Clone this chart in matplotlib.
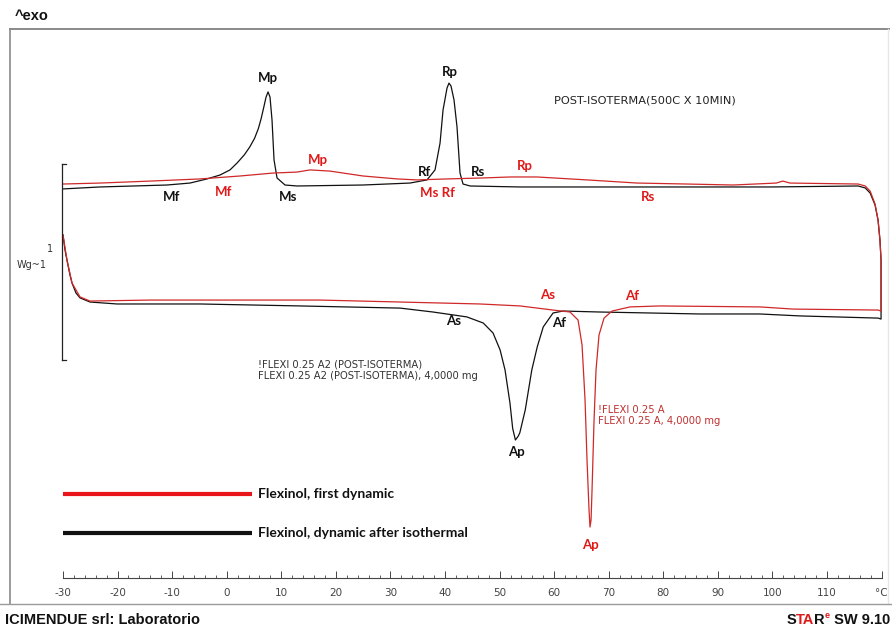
import matplotlib
matplotlib.use("Agg")
import matplotlib.pyplot as plt
from matplotlib.lines import Line2D
from matplotlib.ticker import MultipleLocator
import numpy as np

# ---------------------------------------------------------------------------
# Data (temperature in degC, normalised heat flow in W/g, exo up)
# ---------------------------------------------------------------------------
# Flexinol, dynamic after isothermal (black) - heating branch
black_heat_T = [-30.0, -29.63, -29.27, -28.72, -28.35, -27.62, -26.88, -25.05, -20.1, -4.89,
                13.43, 31.76, 37.8, 44.0, 47.0, 48.8, 50.1, 51.0, 51.9, 52.4, 52.9, 53.4,
                53.7, 54.7, 55.9, 56.9, 58.0, 59.8, 61.6, 68.4, 86.7, 97.7, 105.1, 119.35, 119.9]
black_heat_v = [0.347, 0.270, 0.219, 0.143, 0.102, 0.051, 0.026, 0.005, -0.005, -0.005,
                -0.015, -0.026, -0.046, -0.071, -0.102, -0.153, -0.240, -0.342, -0.510, -0.640, -0.699, -0.680,
                -0.663, -0.546, -0.342, -0.224, -0.122, -0.051, -0.041, -0.046, -0.056, -0.056, -0.066, -0.077, -0.082]
# black - isothermal step + cooling branch
black_cool_T = [119.9, 119.9, 119.7, 119.35, 118.8, 117.9, 117.0, 115.7, 99.6, 75.7, 53.7,
                44.6, 43.3, 42.75, 42.2, 41.65, 41.1, 40.73, 40.37, 39.64, 39.09, 38.17, 36.7,
                33.59, 24.98, 12.88, 10.68, 9.22, 8.67, 8.3, 7.93, 7.57, 7.2, 6.8, 6.3, 5.8,
                5.1, 4.2, 3.2, 1.89, 0.6, -1.23, -3.61, -6.73, -10.94, -23.22, -30.0]
black_cool_v = [0.015, 0.219, 0.321, 0.423, 0.500, 0.561, 0.587, 0.597, 0.592, 0.592, 0.592,
                0.597, 0.607, 0.663, 0.898, 1.036, 1.107, 1.122, 1.097, 0.985, 0.816, 0.679, 0.628,
                0.612, 0.602, 0.597, 0.602, 0.638, 0.730, 0.934, 1.051, 1.077, 1.050, 1.000, 0.940,
                0.890, 0.840, 0.795, 0.755, 0.714, 0.679, 0.653, 0.633, 0.612, 0.602, 0.592, 0.582]

# Flexinol, first dynamic (red) - heating branch
red_heat_T = [-30.0, -29.27, -28.35, -26.88, -25.05, -14.06, 17.1, 31.76, 46.42, 53.75,
              59.79, 62.91, 64.38, 65.11, 65.66, 66.02, 66.39, 66.57, 66.76, 66.94, 67.31,
              67.67, 68.22, 69.14, 70.61, 73.9, 79.4, 97.73, 103.78, 119.35, 119.9]
red_heat_v = [0.347, 0.219, 0.102, 0.031, 0.010, 0.015, 0.015, 0.005, -0.005, -0.015,
              -0.036, -0.046, -0.087, -0.214, -0.495, -0.801, -1.056, -1.143, -1.107, -0.954, -0.597,
              -0.342, -0.163, -0.077, -0.041, -0.020, -0.015, -0.020, -0.031, -0.036, -0.041]
# red - isothermal step + cooling branch
red_cool_T = [119.9, 119.9, 119.7, 119.35, 118.8, 117.9, 117.0, 115.7, 103.2, 101.9, 100.7,
              92.8, 84.35, 75.19, 66.02, 56.86, 51.91, 46.97, 40.37, 34.87, 31.21, 24.98,
              18.93, 15.26, 12.88, 8.48, 2.44, -4.89, -14.06, -23.22, -30.0]
red_cool_v = [0.015, 0.219, 0.321, 0.423, 0.505, 0.571, 0.597, 0.607, 0.612, 0.622, 0.612,
              0.602, 0.607, 0.612, 0.628, 0.643, 0.643, 0.638, 0.633, 0.628, 0.633, 0.648,
              0.673, 0.679, 0.668, 0.663, 0.648, 0.633, 0.622, 0.612, 0.607]

# transformation point labels: (text, T, v)
black_labels = [("Mp", 7.57, 1.148), ("Mf", -10.03, 0.541), ("Ms", 11.23, 0.541),
                ("Rp", 40.92, 1.179), ("Rf", 36.15, 0.668), ("Rs", 46.05, 0.668),
                ("As", 41.65, -0.092), ("Ap", 53.01, -0.760), ("Af", 60.89, -0.102)]
red_labels = [("Mf", -0.5, 0.566), ("Mp", 16.73, 0.730), ("Ms Rf", 38.54, 0.561),
              ("Rp", 54.66, 0.699), ("Rs", 77.2, 0.541), ("As", 58.88, 0.041),
              ("Af", 74.27, 0.036), ("Ap", 66.57, -1.235)]

x_ticks = list(range(-30, 121, 10))
x_ticklabels = [str(t) for t in range(-30, 111, 10)] + ["°C"]
SCALE_BAR = 1.0  # W/g

BLACK = "#111111"
RED = "#d02828"
LABEL_RED = "#e01818"

W, H = 892, 629


def fx(px):
    return px / W


def fy(py):
    return 1 - py / H


fig = plt.figure(figsize=(W / 100, H / 100), dpi=100)
ax = fig.add_axes([fx(63), fy(578), fx(881.6) - fx(63), fy(30) - fy(578)])
ax.set_xlim(-30, 120)
ax.set_ylim((303 - 578) / 196, (303 - 30) / 196)
for side in ("left", "top", "right"):
    ax.spines[side].set_visible(False)
ax.spines["bottom"].set_color("#444444")
ax.spines["bottom"].set_linewidth(0.8)
ax.set_yticks([])
ax.set_xticks(x_ticks)
ax.set_xticklabels(x_ticklabels)
ax.xaxis.set_minor_locator(MultipleLocator(2))
ax.tick_params(axis="x", which="major", direction="in", length=5, width=0.7,
               color="#444444", labelsize=7.5, labelcolor="#444444", pad=7)
ax.tick_params(axis="x", which="minor", direction="in", length=2.5, width=0.6, color="#444444")

# curves
ax.plot(black_heat_T + black_cool_T, black_heat_v + black_cool_v, color=BLACK, lw=0.9)
ax.plot(red_heat_T + red_cool_T, red_heat_v + red_cool_v, color=RED, lw=0.9)

# point labels
for txt, t, v in black_labels:
    ax.text(t, v, txt, color=BLACK, fontsize=9.5, fontweight="bold", family="Lato",
            ha="center", va="center")
for txt, t, v in red_labels:
    ax.text(t, v, txt, color=LABEL_RED, fontsize=9.5, fontweight="bold", family="Lato",
            ha="center", va="center")

# annotations
ax.text(76.65, 1.031, "POST-ISOTERMA(500C X 10MIN)", fontsize=8.2, color="#222222",
        ha="center", va="center")
ax.text(5.73, -0.342, "!FLEXI 0.25 A2 (POST-ISOTERMA)\nFLEXI 0.25 A2 (POST-ISOTERMA), 4,0000 mg",
        fontsize=7.2, color="#333333", ha="left", va="center", linespacing=1.2)
ax.text(68.04, -0.574, "!FLEXI 0.25 A\nFLEXI 0.25 A, 4,0000 mg",
        fontsize=7.2, color="#c03030", ha="left", va="center", linespacing=1.2)

# scale bar (1 W/g)
bar_x = -30.2
bar_top = 0.709
ax.plot([bar_x, bar_x], [bar_top - SCALE_BAR, bar_top], color="#222222", lw=0.9, clip_on=False)
for yb in (bar_top - SCALE_BAR, bar_top):
    ax.plot([bar_x, bar_x + 0.8], [yb, yb], color="#222222", lw=0.9, clip_on=False)
fig.text(fx(50), fy(249), "1", fontsize=7, color="#333333", ha="center", va="center")
fig.text(fx(32), fy(265), "Wg~1", fontsize=7, color="#333333", ha="center", va="center")

# legend
ax.plot([-30.2, 4.63], [-0.974, -0.974], color="#e8151b", lw=3, solid_capstyle="butt")
ax.plot([-30.2, 4.63], [-1.173, -1.173], color=BLACK, lw=3, solid_capstyle="butt")
ax.text(5.7, -0.974, "Flexinol, first dynamic", fontsize=10, fontweight="bold", family="Lato",
        color=BLACK, ha="left", va="center")
ax.text(5.7, -1.173, "Flexinol, dynamic after isothermal", fontsize=10, fontweight="bold",
        family="Lato", color=BLACK, ha="left", va="center")

# frame
fig.add_artist(Line2D([fx(10), fx(889)], [fy(29), fy(29)], color="#8a8a8a", lw=1.4))
fig.add_artist(Line2D([fx(10), fx(10)], [fy(29), fy(604)], color="#8a8a8a", lw=1.2))
fig.add_artist(Line2D([fx(888), fx(888)], [fy(29), fy(604)], color="#e6e6e6", lw=1.0))
fig.add_artist(Line2D([0, 1], [fy(604), fy(604)], color="#9a9a9a", lw=1.0))

# header / footer
fig.text(fx(15), fy(16), "^exo", fontsize=10.5, fontweight="bold", color="#111111",
         family="Liberation Sans", ha="left", va="center")
fig.text(fx(5), fy(620), "ICIMENDUE srl: Laboratorio", fontsize=10.5, fontweight="bold",
         color="#111111", family="Liberation Sans", ha="left", va="center")

# STAR(e) SW 9.10 logo text, pieces coloured
renderer = fig.canvas.get_renderer()
pieces = [("S", "#111111", 10.5, 0), ("TA", "#e01818", 10.5, 0), ("R", "#111111", 10.5, 0),
          ("e", "#e01818", 6.5, 4), (" SW 9.10", "#111111", 10.5, 0)]
widths = []
for txt, col, fs, dy in pieces:
    t = fig.text(0, 0, txt, fontsize=fs, fontweight="bold", family="Liberation Sans")
    widths.append(t.get_window_extent(renderer).width)
    t.remove()
x0 = 890 - sum(widths)
for (txt, col, fs, dy), wd in zip(pieces, widths):
    fig.text(fx(x0), fy(620 + (-dy)), txt, fontsize=fs, fontweight="bold", color=col,
             family="Liberation Sans", ha="left", va="center")
    x0 += wd

fig.savefig("out.png", dpi=100)
